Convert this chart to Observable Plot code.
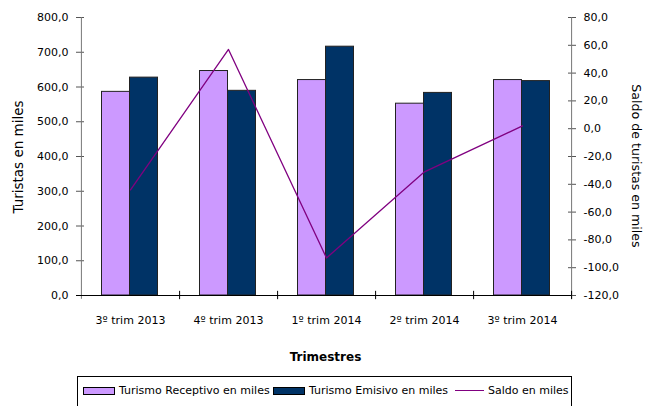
<!DOCTYPE html>
<html>
<head>
<meta charset="utf-8">
<script src="https://cdn.jsdelivr.net/npm/d3@7"></script>
<script src="https://cdn.jsdelivr.net/npm/@observablehq/plot@0.6"></script>
<style>
  html, body { margin: 0; padding: 0; background: #fff; }
  #wrap { position: relative; width: 651px; height: 406px; overflow: hidden; font-family: "DejaVu Sans", sans-serif; }
  .title { position: absolute; font-family: "DejaVu Sans", sans-serif; color: #000; white-space: nowrap; }
  #legend { position: absolute; left: 77px; top: 376px; width: 495px; height: 40px; border: 1px solid #000; box-sizing: border-box; font-size: 11px; }
  .item { position: absolute; top: 7px; display: flex; align-items: center; white-space: nowrap; }
  .sw { display: inline-block; width: 30px; height: 6px; border: 1px solid #000; margin-right: 4px; }
  .ln { display: inline-block; width: 29px; height: 0; border-top: 1.5px solid #800080; margin-right: 4px; }
</style>
</head>
<body>
<div id="wrap"></div>
<script>
const trimestres = ["3º trim 2013", "4º trim 2013", "1º trim 2014", "2º trim 2014", "3º trim 2014"];
const receptivo = [586, 646, 620, 552, 620];
const emisivo = [627, 589, 716, 583, 617];
const saldo = [-44, 57, -93, -31, 2];
const leftTicks = [0, 100, 200, 300, 400, 500, 600, 700, 800];
const rightTicks = [-120, -100, -80, -60, -40, -20, 0, 20, 40, 60, 80];
const seriesNames = ["Turismo Receptivo en miles", "Turismo Emisivo en miles", "Saldo en miles"];
const colors = ["#CC99FF", "#003366", "#800080"];

const rightMin = -120, rightMax = 80, leftMax = 800;
const toLeft = s => (s - rightMin) * leftMax / (rightMax - rightMin);
const fromLeft = v => v * (rightMax - rightMin) / leftMax + rightMin;
const fmt = v => v.toFixed(1).replace(".", ",");

const data = trimestres.map((t, i) => ({t, rec: receptivo[i], emi: emisivo[i], saldo: saldo[i]}));

const W = 651, H = 406, mL = 80, mR = 80, mT = 17, mB = 111;
const bw = (W - mL - mR) / trimestres.length;

const plot = Plot.plot({
  width: W, height: H,
  marginLeft: mL, marginRight: mR, marginTop: mT, marginBottom: mB,
  style: {fontFamily: "DejaVu Sans, sans-serif", fontSize: "11px", color: "#000", background: "#fff"},
  x: {domain: trimestres, padding: 0, axis: null},
  y: {domain: [0, leftMax], axis: null},
  marks: [
    Plot.barY(data, {x: "t", y: "rec", fill: colors[0], stroke: "#222", strokeWidth: 1, insetLeft: 20.5, insetRight: 49.5}),
    Plot.barY(data, {x: "t", y: "emi", fill: colors[1], stroke: "#222", strokeWidth: 1, insetLeft: 48.5, insetRight: 21.5}),
    Plot.lineY(data, {x: "t", y: d => toLeft(d.saldo), stroke: colors[2], strokeWidth: 1.3}),
    // left axis
    Plot.axisY({anchor: "left", ticks: leftTicks, tickSize: 4, tickPadding: 8, tickFormat: fmt, stroke: "#555", fill: "#000", label: null, fontSize: 11}),
    Plot.axisY({anchor: "left", ticks: leftTicks, tickSize: -4, tickFormat: () => "", stroke: "#555", label: null}),
    // right axis
    Plot.axisY({anchor: "right", ticks: rightTicks.map(toLeft), tickSize: 4, tickPadding: 8, tickFormat: d => fmt(fromLeft(d)), stroke: "#555", fill: "#000", label: null, fontSize: 11}),
    Plot.axisY({anchor: "right", ticks: rightTicks.map(toLeft), tickSize: -4, tickFormat: () => "", stroke: "#555", label: null}),
    // axis lines
    Plot.ruleX([trimestres[0]], {dx: -bw / 2, y1: -11, y2: leftMax, stroke: "#777"}),
    Plot.ruleX([trimestres[trimestres.length - 1]], {dx: bw / 2, y1: -11, y2: leftMax, stroke: "#777"}),
    Plot.ruleY([0], {stroke: "#000", insetLeft: -4}),
    // category boundary ticks
    Plot.ruleX(trimestres, {dx: bw / 2, y1: -12, y2: 12, stroke: "#000"}),
    // x labels
    Plot.axisX({ticks: trimestres, tickSize: 0, tickPadding: 21, label: null, fontSize: 11, fill: "#000"})
  ]
});

const wrap = document.getElementById("wrap");
wrap.appendChild(plot);

function addTitle(text, css) {
  const d = document.createElement("div");
  d.className = "title";
  d.textContent = text;
  Object.assign(d.style, css);
  wrap.appendChild(d);
}
addTitle("Trimestres", {left: "0px", width: W + "px", textAlign: "center", top: "350px", fontSize: "12px", fontWeight: "bold"});
addTitle("Turistas en miles", {left: "18px", top: "157px", fontSize: "13.5px", transform: "translate(-50%, -50%) rotate(-90deg)"});
addTitle("Saldo de turistas en miles", {left: "636px", top: "166px", fontSize: "12.6px", transform: "translate(-50%, -50%) rotate(90deg)"});

const legend = document.createElement("div");
legend.id = "legend";
const lefts = [5, 195, 377];
seriesNames.forEach((name, i) => {
  const it = document.createElement("div");
  it.className = "item";
  it.style.left = lefts[i] + "px";
  const sw = document.createElement("span");
  if (i < 2) { sw.className = "sw"; sw.style.background = colors[i]; }
  else { sw.className = "ln"; }
  it.appendChild(sw);
  const tx = document.createElement("span");
  tx.textContent = name;
  it.appendChild(tx);
  legend.appendChild(it);
});
wrap.appendChild(legend);
</script>
</body>
</html>
